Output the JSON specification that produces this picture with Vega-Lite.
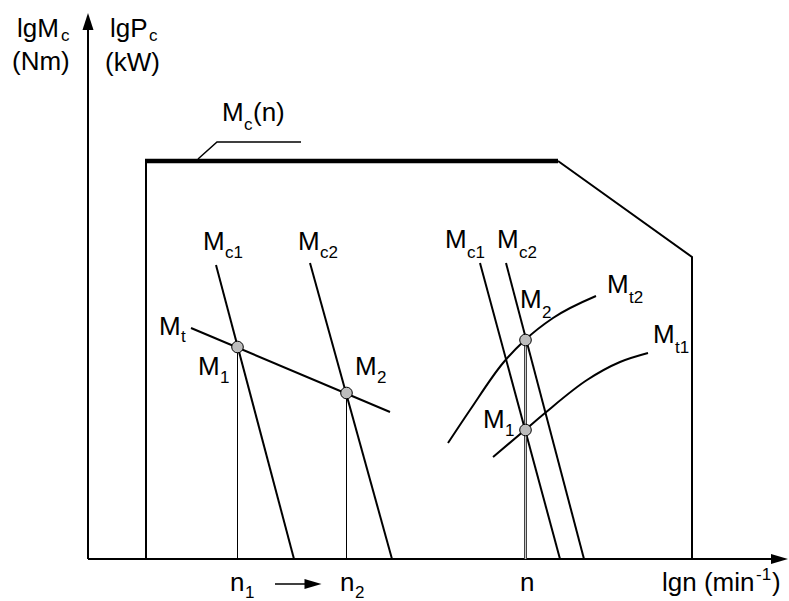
{
  "$schema": "https://vega.github.io/schema/vega-lite/v6.json",
  "width": 789,
  "height": 601,
  "padding": 0,
  "autosize": {"type": "fit", "contains": "padding"},
  "background": "white",
  "view": {"stroke": null},
  "config": {"text": {"font": "Liberation Sans", "color": "black"}},
  "datasets": {
    "lines": [
      {"name": "yaxis", "i": 0, "x": 0, "y": 0}, {"name": "yaxis", "i": 1, "x": 0, "y": 530},
      {"name": "xaxis", "i": 0, "x": 0, "y": 0}, {"name": "xaxis", "i": 1, "x": 684, "y": 0},
      {"name": "bL", "i": 0, "x": 58, "y": 0}, {"name": "bL", "i": 1, "x": 58, "y": 398},
      {"name": "bR", "i": 0, "x": 470, "y": 398}, {"name": "bR", "i": 1, "x": 604, "y": 302}, {"name": "bR", "i": 2, "x": 604, "y": 0},
      {"name": "top", "i": 0, "x": 57, "y": 398}, {"name": "top", "i": 1, "x": 470, "y": 398},
      {"name": "leader", "i": 0, "x": 110, "y": 400}, {"name": "leader", "i": 1, "x": 129, "y": 417}, {"name": "leader", "i": 2, "x": 213, "y": 417},
      {"name": "Mc1L", "i": 0, "x": 128, "y": 294}, {"name": "Mc1L", "i": 1, "x": 206, "y": 0},
      {"name": "Mc2L", "i": 0, "x": 222, "y": 296}, {"name": "Mc2L", "i": 1, "x": 304, "y": 0},
      {"name": "MtL", "i": 0, "x": 103, "y": 231}, {"name": "MtL", "i": 1, "x": 302, "y": 147},
      {"name": "Mc1R", "i": 0, "x": 392, "y": 296}, {"name": "Mc1R", "i": 1, "x": 472, "y": 0},
      {"name": "Mc2R", "i": 0, "x": 418, "y": 296}, {"name": "Mc2R", "i": 1, "x": 496, "y": 0},
      {"name": "v1", "i": 0, "x": 149.5, "y": 212}, {"name": "v1", "i": 1, "x": 149.5, "y": 0},
      {"name": "v2", "i": 0, "x": 258.5, "y": 166}, {"name": "v2", "i": 1, "x": 258.5, "y": 0},
      {"name": "vR", "i": 0, "x": 437.5, "y": 219}, {"name": "vR", "i": 1, "x": 437.5, "y": 0},
      {"name": "arrow", "i": 0, "x": 187, "y": -25}, {"name": "arrow", "i": 1, "x": 218, "y": -25},
      {"name": "Mt2", "i": 0, "x": 360, "y": 116}, {"name": "Mt2", "i": 1, "x": 382, "y": 149}, {"name": "Mt2", "i": 2, "x": 415, "y": 196}, {"name": "Mt2", "i": 3, "x": 437, "y": 219}, {"name": "Mt2", "i": 4, "x": 465, "y": 241}, {"name": "Mt2", "i": 5, "x": 508, "y": 263},
      {"name": "Mt1", "i": 0, "x": 405, "y": 102}, {"name": "Mt1", "i": 1, "x": 437, "y": 129}, {"name": "Mt1", "i": 2, "x": 457, "y": 146}, {"name": "Mt1", "i": 3, "x": 499, "y": 179}, {"name": "Mt1", "i": 4, "x": 532, "y": 197}, {"name": "Mt1", "i": 5, "x": 560, "y": 206}
    ],
    "points": [
      {"name": "M1", "x": 149.5, "y": 212}, {"name": "M2", "x": 258.5, "y": 166},
      {"name": "M2", "x": 437.5, "y": 219}, {"name": "M1", "x": 437.5, "y": 129}
    ],
    "heads": [
      {"dir": "up", "x": 0, "y": 537.5},
      {"dir": "right", "x": 691.5, "y": 0},
      {"dir": "right", "x": 225, "y": -25}
    ],
    "labels": [
      {"t": "lgM", "x": -71, "y": 522}, {"t": "(Nm)", "x": -76, "y": 489},
      {"t": "lgP", "x": 22, "y": 522}, {"t": "(kW)", "x": 17, "y": 488},
      {"t": "M", "x": 134, "y": 438}, {"t": "(n)", "x": 165, "y": 438},
      {"t": "M", "x": 115, "y": 309}, {"t": "M", "x": 210, "y": 309},
      {"t": "M", "x": 71, "y": 224}, {"t": "M", "x": 110, "y": 184}, {"t": "M", "x": 267, "y": 184},
      {"t": "M", "x": 357, "y": 311}, {"t": "M", "x": 409, "y": 311}, {"t": "M", "x": 432, "y": 251},
      {"t": "M", "x": 519, "y": 266}, {"t": "M", "x": 565, "y": 216}, {"t": "M", "x": 395, "y": 131},
      {"t": "n", "x": 142, "y": -32}, {"t": "n", "x": 252, "y": -32}, {"t": "n", "x": 432, "y": -32},
      {"t": "lgn (min", "x": 574, "y": -32}, {"t": ")", "x": 684, "y": -32}
    ],
    "subs": [
      {"t": "c", "x": -27, "y": 518}, {"t": "c", "x": 61, "y": 518}, {"t": "c", "x": 156, "y": 429},
      {"t": "c1", "x": 137, "y": 301}, {"t": "c2", "x": 232, "y": 301}, {"t": "t", "x": 93, "y": 217},
      {"t": "1", "x": 132, "y": 176}, {"t": "2", "x": 289, "y": 176},
      {"t": "c1", "x": 379, "y": 301}, {"t": "c2", "x": 431, "y": 301}, {"t": "2", "x": 454, "y": 241},
      {"t": "t2", "x": 541, "y": 256}, {"t": "t1", "x": 587, "y": 206}, {"t": "1", "x": 417, "y": 123},
      {"t": "1", "x": 157, "y": -39}, {"t": "2", "x": 267, "y": -39}, {"t": "-1", "x": 668, "y": -21}
    ]
  },
  "encoding": {
    "x": {"field": "x", "type": "quantitative", "scale": {"domain": [-88, 701], "nice": false, "zero": false}, "axis": null},
    "y": {"field": "y", "type": "quantitative", "scale": {"domain": [-42, 559], "nice": false, "zero": false}, "axis": null}
  },
  "layer": [
    {
      "data": {"name": "lines"},
      "transform": [{"filter": {"field": "name", "oneOf": ["yaxis", "xaxis", "bL", "bR", "Mc1L", "Mc2L", "MtL", "Mc1R", "Mc2R"]}}],
      "mark": {"type": "line", "color": "black", "strokeWidth": 2},
      "encoding": {"detail": {"field": "name"}, "order": {"field": "i"}}
    },
    {
      "data": {"name": "lines"},
      "transform": [{"filter": {"field": "name", "oneOf": ["leader", "arrow"]}}],
      "mark": {"type": "line", "color": "black", "strokeWidth": 1.5},
      "encoding": {"detail": {"field": "name"}, "order": {"field": "i"}}
    },
    {
      "data": {"name": "lines"},
      "transform": [{"filter": {"field": "name", "equal": "top"}}],
      "mark": {"type": "line", "color": "black", "strokeWidth": 4.5},
      "encoding": {"detail": {"field": "name"}, "order": {"field": "i"}}
    },
    {
      "data": {"name": "lines"},
      "transform": [{"filter": {"field": "name", "oneOf": ["v1", "v2"]}}],
      "mark": {"type": "line", "color": "black", "strokeWidth": 1},
      "encoding": {"detail": {"field": "name"}, "order": {"field": "i"}}
    },
    {
      "data": {"name": "lines"},
      "transform": [{"filter": {"field": "name", "equal": "vR"}}],
      "mark": {"type": "line", "color": "#333333", "strokeWidth": 3},
      "encoding": {"detail": {"field": "name"}, "order": {"field": "i"}}
    },
    {
      "data": {"name": "lines"},
      "transform": [{"filter": {"field": "name", "equal": "vR"}}],
      "mark": {"type": "line", "color": "#c8c8c8", "strokeWidth": 1.2},
      "encoding": {"detail": {"field": "name"}, "order": {"field": "i"}}
    },
    {
      "data": {"name": "lines"},
      "transform": [{"filter": {"field": "name", "oneOf": ["Mt1", "Mt2"]}}],
      "mark": {"type": "line", "color": "black", "strokeWidth": 2, "interpolate": "monotone"},
      "encoding": {"detail": {"field": "name"}, "order": {"field": "i"}}
    },
    {
      "data": {"name": "points"},
      "mark": {"type": "point", "shape": "circle", "filled": true, "fill": "#bdbdbd", "stroke": "black", "strokeWidth": 1, "size": 135, "opacity": 1}
    },
    {
      "data": {"name": "heads"},
      "transform": [{"filter": {"field": "dir", "equal": "up"}}],
      "mark": {"type": "point", "shape": "M0,-1L0.65,1L-0.65,1Z", "filled": true, "color": "black", "size": 289, "opacity": 1}
    },
    {
      "data": {"name": "heads"},
      "transform": [{"filter": {"field": "dir", "equal": "right"}}],
      "mark": {"type": "point", "shape": "M1,0L-1,-0.6L-1,0.6Z", "filled": true, "color": "black", "size": 289, "opacity": 1}
    },
    {
      "data": {"name": "labels"},
      "mark": {"type": "text", "align": "left", "baseline": "alphabetic", "fontSize": 26},
      "encoding": {"text": {"field": "t"}}
    },
    {
      "data": {"name": "subs"},
      "mark": {"type": "text", "align": "left", "baseline": "alphabetic", "fontSize": 17},
      "encoding": {"text": {"field": "t"}}
    }
  ]
}
